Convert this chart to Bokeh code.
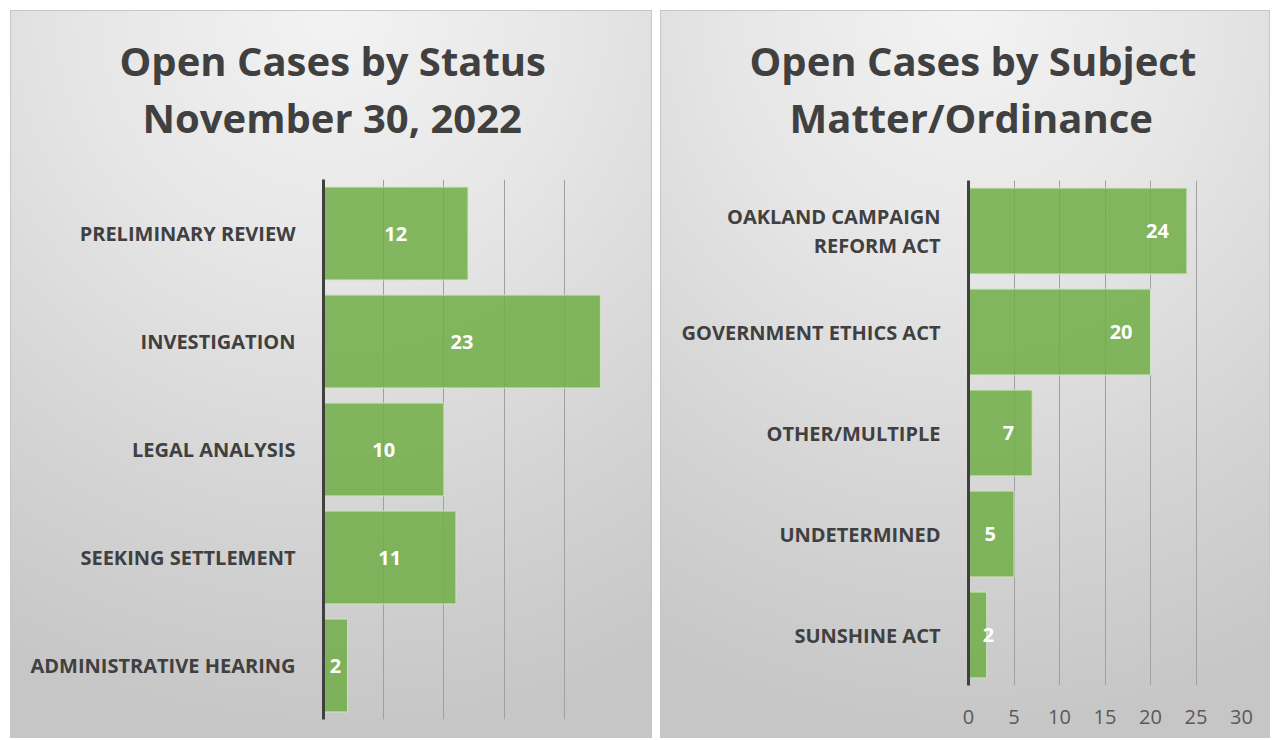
from bokeh.plotting import figure
from bokeh.models import (FactorRange, Range1d, SingleIntervalTicker, Title,
                          ColumnDataSource)
from bokeh.layouts import row, column
from bokeh.embed import file_html
from bokeh.resources import INLINE
from bokeh.core.properties import value
import numpy as np

# ---------------- data ----------------
status_categories = ["PRELIMINARY REVIEW", "INVESTIGATION", "LEGAL ANALYSIS",
                     "SEEKING SETTLEMENT", "ADMINISTRATIVE HEARING"]
status_counts = [12, 23, 10, 11, 2]

subject_categories = ["OAKLAND CAMPAIGN\nREFORM ACT", "GOVERNMENT ETHICS ACT",
                      "OTHER/MULTIPLE", "UNDETERMINED", "SUNSHINE ACT"]
subject_counts = [24, 20, 7, 5, 2]

left_title = ["Open Cases by Status", "November 30, 2022"]
right_title = ["Open Cases by Subject", "Matter/Ordinance"]

FONT = "Open Sans"
DARK = "#404040"
GREEN = "#70AD47"
GRID = "#a0a0a0"
PANEL_STYLE = {
    "background": "radial-gradient(ellipse 110% 100% at 50% 0%, #f3f3f3 0%, #e6e6e6 35%, #d3d3d3 72%, #c6c6c6 100%)",
    "outline": "1px solid #c6c6c6",
    "outline-offset": "-1px",
}


def base_figure(cats, xmax, width, height, bl, br, bt, bb):
    p = figure(width=width, height=height, y_range=FactorRange(factors=cats[::-1]),
               x_range=Range1d(0, xmax), output_backend="svg", toolbar_location=None,
               min_border_left=bl, min_border_right=br, min_border_top=bt,
               min_border_bottom=bb)
    p.background_fill_alpha = 0
    p.border_fill_alpha = 0
    p.outline_line_color = None
    p.styles = PANEL_STYLE
    p.ygrid.grid_line_color = None
    p.xgrid.ticker = SingleIntervalTicker(interval=5)
    p.xgrid.grid_line_color = GRID
    p.xgrid.grid_line_width = 1
    p.yaxis.axis_line_color = DARK
    p.yaxis.axis_line_width = 3
    p.yaxis.major_tick_line_color = None
    p.yaxis.minor_tick_line_color = None
    p.yaxis.major_label_text_font = FONT
    p.yaxis.major_label_text_font_style = "bold"
    p.yaxis.major_label_text_font_size = "20px"
    p.yaxis.major_label_text_color = DARK
    p.yaxis.major_label_text_line_height = 1.08
    p.yaxis.major_label_standoff = 22
    return p


def add_title(p, lines, offsets, gap):
    # spacer closest to the plot, then lower line, then upper line
    p.add_layout(Title(text=" ", text_font_size="1px", standoff=gap), "above")
    for t, off in list(zip(lines, offsets))[::-1]:
        p.add_layout(Title(text=t, align="left", offset=off, standoff=0,
                           text_font=FONT, text_font_style="bold",
                           text_font_size="40px", text_color=DARK), "above")


# ---------------- left panel ----------------
LW, H = 642, 728
p1 = base_figure(status_categories, 25, LW, H, 313, 28, 169, 19)
p1.xaxis.visible = False
src1 = ColumnDataSource(dict(cat=status_categories, val=status_counts,
                             mid=[v / 2 for v in status_counts],
                             lab=[str(v) for v in status_counts]))
p1.hbar(y="cat", right="val", left=0, height=0.86, source=src1,
        fill_color=GREEN, fill_alpha=0.85, line_color="#cfe5c0", line_width=1)
p1.text(x="mid", y="cat", text="lab", source=src1, text_align="center",
        text_baseline="middle", text_color="white", text_font=value(FONT),
        text_font_style="bold", text_font_size="20px")
add_title(p1, left_title, [-204, -181], 32)

# ---------------- right panel ----------------
RW = 610
p2 = base_figure(subject_categories, 30, RW, H, 308, 29, 170, 53)
p2.xaxis.ticker = SingleIntervalTicker(interval=5)
p2.xaxis.axis_line_color = None
p2.xaxis.major_tick_line_color = None
p2.xaxis.minor_tick_line_color = None
p2.xaxis.major_label_standoff = 18
p2.xaxis.major_label_text_font = FONT
p2.xaxis.major_label_text_font_size = "20px"
p2.xaxis.major_label_text_color = "#595959"
src2 = ColumnDataSource(dict(cat=subject_categories, val=subject_counts,
                             pos=list(np.maximum(subject_counts, 4.8)),
                             lab=[str(v) for v in subject_counts]))
p2.hbar(y="cat", right="val", left=0, height=0.85, source=src2,
        fill_color=GREEN, fill_alpha=0.85, line_color="#cfe5c0", line_width=1)
p2.text(x="pos", y="cat", text="lab", source=src2, text_align="right",
        x_offset=-18, text_baseline="middle", text_color="white",
        text_font=value(FONT), text_font_style="bold", text_font_size="20px")
add_title(p2, right_title, [-219, -179], 33)

layout = row(column(p1), column(p2), spacing=8, margin=(10, 0, 0, 10))
open("out.html", "w").write(file_html(layout, INLINE))
